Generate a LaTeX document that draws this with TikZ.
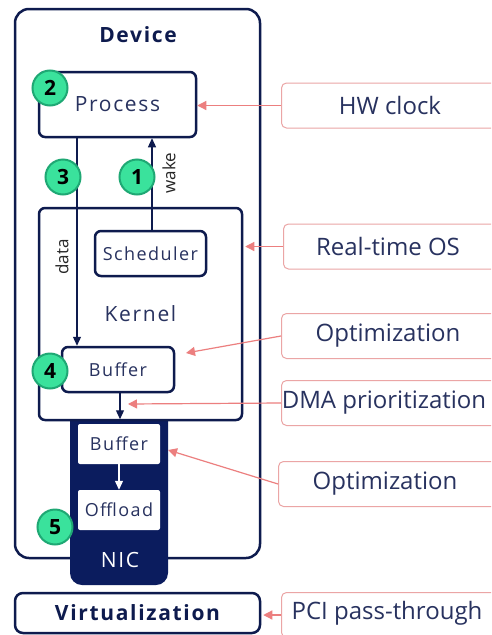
\documentclass[tikz,border=0pt]{standalone}
\usepackage{fontspec}
\setmainfont{Open Sans}
\newfontfamily\trk[LetterSpace=8]{Open Sans}
\usetikzlibrary{arrows.meta,calc}
\definecolor{navy}{HTML}{0E1B4E}
\definecolor{tnavy}{HTML}{28325F}
\definecolor{nicfill}{HTML}{0B1C5E}
\definecolor{gfill}{HTML}{3AE29C}
\definecolor{gdraw}{HTML}{1FA874}
\definecolor{sborder}{HTML}{EBA5A5}
\definecolor{sarrow}{HTML}{EC7F7F}
\tikzset{
  navybox/.style={draw=navy, line width=2.5pt, rounded corners=6pt, fill=white, inner sep=0pt},
  whitebox/.style={fill=white, rounded corners=2pt, inner sep=0pt, minimum width=82pt, minimum height=40pt},
  rbox/.style={draw=sborder, line width=1pt, rounded corners=5pt, anchor=west, minimum height=45pt, minimum width=240pt, inner sep=0pt},
  rtxt/.style={text=tnavy, font=\fontsize{24}{28}\selectfont},
  ltxt/.style={text=tnavy, font=\trk\fontsize{21}{24}\selectfont},
  stxt/.style={text=tnavy, font=\trk\fontsize{18}{22}\selectfont},
  num/.style={circle, fill=gfill, draw=gdraw, line width=2pt, minimum size=35pt, inner sep=0pt, font=\bfseries\fontsize{21}{24}\selectfont, text=black},
  sarr/.style={draw=sarrow, line width=1.2pt, -{Triangle[length=9pt,width=9pt]}},
  narr/.style={draw=navy, line width=1.2pt, -{Triangle[length=9pt,width=8pt]}},
  warr/.style={draw=white, line width=1.2pt, -{Triangle[length=9pt,width=8pt]}},
  lab/.style={text=black!85, font=\fontsize{17}{20}\selectfont, rotate=90}
}
\begin{document}
\begin{tikzpicture}[x=1pt,y=-1pt]
\useasboundingbox (0,0) rectangle (491,635);
\clip (0,0) rectangle (491,635);
\fill[white] (0,0) rectangle (491,635);
% device
\node[navybox, rounded corners=14pt, minimum width=245pt, minimum height=549pt] (device) at (137.5,283.5) {};
\node[text=navy, font=\trk\bfseries\fontsize{21}{24}\selectfont] (devt) at (138,35) {Device};
% process
\node[navybox, minimum width=157pt, minimum height=65pt, ltxt] (process) at (117.5,104.5) {Process};
% NIC
\fill[nicfill, rounded corners=12pt] (70,405) rectangle (168,585);
% kernel
\node[navybox, minimum width=203pt, minimum height=212pt, ltxt] (kernel) at (140.5,314) {Kernel};
\node[navybox, minimum width=111pt, minimum height=45pt, stxt] (sched) at (150.5,253.5) {Scheduler};
\node[navybox, minimum width=112pt, minimum height=45pt, stxt] (kbuf) at (118,369.5) {Buffer};
% NIC content
\node[whitebox, stxt] (nbuf) at (119,444) {Buffer};
\node[whitebox, stxt] (offl) at (119,510) {Offload};
\node[text=white, font=\trk\fontsize{21}{24}\selectfont] (nict) at (120,560) {NIC};
\draw[warr] (nbuf.south) -- (offl.north);
% virtualization
\node[navybox, rounded corners=8pt, minimum width=245pt, minimum height=40pt, text=navy, font=\trk\bfseries\fontsize{21}{24}\selectfont] (virt) at (137.5,613) {Virtualization};
% internal arrows
\coordinate (dx) at (77,0);
\coordinate (wx) at (152,0);
\coordinate (kx) at (120,0);
\draw[narr] (process.south -| dx) -- (kbuf.north -| dx);
\draw[narr] (sched.north -| wx) -- (process.south -| wx);
\draw[narr] (kbuf.south -| kx) -- ($(kernel.south -| kx)+(0,-2)$);
\node[lab] (datal) at (62,257) {data};
\node[lab] (wakel) at (169,173) {wake};
% numbers
\node[num] (n2) at (50,88) {2};
\node[num] (n3) at (63,177) {3};
\node[num] (n1) at (137,177) {1};
\node[num] (n4) at (50,371) {4};
\node[num] (n5) at (55,527) {5};
% right boxes
\node[rbox] (hw) at (281,105.5) {};
\node[rtxt] at (390,105.5) {HW clock};
\node[rbox] (rt) at (283,246.5) {};
\node[rtxt] at (388,246.5) {Real-time OS};
\node[rbox] (op1) at (281,336) {};
\node[rtxt] at (388,336) {Optimization};
\node[rbox] (dma) at (281,403) {};
\node[rtxt] at (384,403) {DMA prioritization};
\node[rbox] (op2) at (278,484) {};
\node[rtxt] at (385,484) {Optimization};
\node[rbox] (pci) at (281,615) {};
\node[rtxt] at (387,613) {PCI pass-through};
% salmon arrows
\coordinate (t1) at (186,353);
\coordinate (t2) at (128,404);
\coordinate (t3) at (168,450);
\draw[sarr] (hw.west) -- (process.east |- hw.west);
\draw[sarr] (rt.west) -- ($(kernel.east |- rt.west)+(2,0)$);
\draw[sarr] (op1.west) -- (t1);
\draw[sarr] (dma.west) -- (t2);
\draw[sarr] (op2.west) -- (t3);
\draw[sarr] (pci.west) -- ($(virt.east |- pci.west)+(2,0)$);
\end{tikzpicture}
\end{document}
